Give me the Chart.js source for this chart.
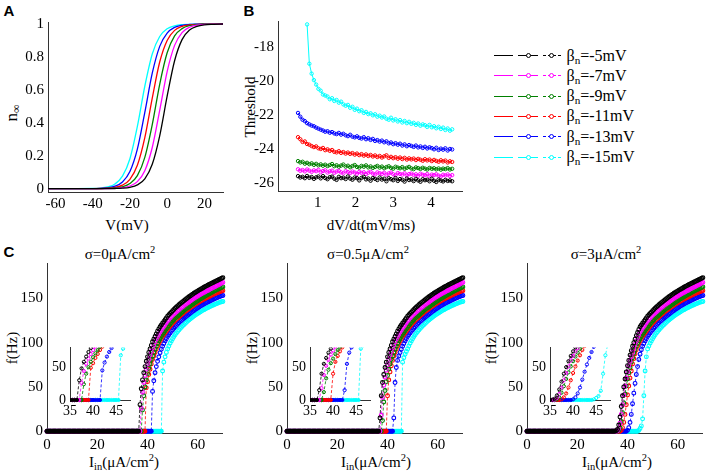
<!DOCTYPE html>
<html>
<head>
<meta charset="utf-8">
<script src="https://cdn.jsdelivr.net/npm/chart.js@4.4.0/dist/chart.umd.min.js"></script>
<style>
  body { margin: 0; width: 708px; height: 473px; background: #fff; position: relative; overflow: hidden;
         font-family: "Liberation Serif", "Times New Roman", serif; }
  canvas { position: absolute; }
  .t { position: absolute; font-size: 15px; line-height: 1; white-space: nowrap; color: #000; }
  .t sub { font-size: 70%; vertical-align: -0.3em; line-height: 0; }
  .t sup { font-size: 70%; vertical-align: 0.55em; line-height: 0; }
  .letter { font: bold 15px "Liberation Sans", Arial, sans-serif; }
  .big { font-size: 17px; }
  .lg { position: absolute; }
</style>
</head>
<body>
<script>
// series colours and legend labels (beta_n = -5 ... -15 mV)
const colors = ['#000000', '#ff00ff', '#008000', '#ff0000', '#0000ff', '#00ffff'];
const betaLabels = ['-5', '-7', '-9', '-11', '-13', '-15'];

// ---- panel A : n_inf(V)
const aV = [-65, -40, -36, -32, -28, -24, -20, -16, -12, -8, -4, 0, 4, 8, 12, 16, 20, 25, 30];
const nInf5  = [0, 0.0001, 0.0002, 0.0004, 0.0012, 0.0032, 0.0086, 0.023, 0.060, 0.148, 0.321, 0.562, 0.777, 0.905, 0.963, 0.986, 0.995, 0.998, 1.0];
const nInf7  = [0, 0.0001, 0.0003, 0.0008, 0.0022, 0.0061, 0.0163, 0.043, 0.109, 0.250, 0.475, 0.711, 0.870, 0.948, 0.980, 0.993, 0.997, 0.999, 1.0];
const nInf9  = [0, 0.0002, 0.0006, 0.0016, 0.0043, 0.0115, 0.031, 0.079, 0.190, 0.389, 0.634, 0.825, 0.928, 0.972, 0.990, 0.996, 0.999, 1.0, 1.0];
const nInf11 = [0, 0.0004, 0.0011, 0.003, 0.0082, 0.022, 0.057, 0.142, 0.310, 0.550, 0.769, 0.900, 0.961, 0.985, 0.994, 0.998, 0.999, 1.0, 1.0];
const nInf13 = [0, 0.0008, 0.0021, 0.0058, 0.0155, 0.041, 0.104, 0.240, 0.463, 0.701, 0.864, 0.945, 0.979, 0.992, 0.997, 0.999, 1.0, 1.0, 1.0];
const nInf15 = [0, 0.0015, 0.0041, 0.011, 0.029, 0.076, 0.182, 0.378, 0.622, 0.818, 0.924, 0.971, 0.989, 0.996, 0.998, 0.999, 1.0, 1.0, 1.0];
const aXTicks = [-60, -40, -20, 0, 20];
const aYTicks = [0, 0.2, 0.4, 0.6, 0.8, 1];

// ---- panel B : threshold vs dV/dt
const bX = [0.48, 0.54, 0.60, 0.66, 0.72, 0.78, 0.84, 0.90, 0.96, 1.02, 1.08, 1.14, 1.20, 1.26, 1.32, 1.38, 1.44, 1.50, 1.56, 1.62,
  1.68, 1.74, 1.80, 1.86, 1.92, 1.98, 2.04, 2.10, 2.16, 2.22, 2.28, 2.34, 2.40, 2.46, 2.52, 2.58, 2.64, 2.70, 2.76, 2.82,
  2.88, 2.94, 3.00, 3.06, 3.12, 3.18, 3.24, 3.30, 3.36, 3.42, 3.48, 3.54, 3.60, 3.66, 3.72, 3.78, 3.84, 3.90, 3.96, 4.02,
  4.08, 4.14, 4.20, 4.26, 4.32, 4.38, 4.44, 4.50, 4.56];
const thr5 = [-25.58, -25.66, -25.62, -25.70, -25.57, -25.68, -25.63, -25.74, -25.65, -25.60,
  -25.71, -25.58, -25.69, -25.76, -25.64, -25.61, -25.73, -25.80, -25.62, -25.70,
  -25.67, -25.75, -25.60, -25.72, -25.79, -25.66, -25.70, -25.83, -25.68, -25.62,
  -25.77, -25.72, -25.85, -25.69, -25.74, -25.81, -25.66, -25.78, -25.73, -25.88,
  -25.70, -25.76, -25.82, -25.69, -25.86, -25.75, -25.79, -25.90, -25.72, -25.81,
  -25.77, -25.87, -25.74, -25.83, -25.91, -25.76, -25.82, -25.79, -25.88, -25.73,
  -25.85, -25.92, -25.78, -25.84, -25.89, -25.80, -25.86, -25.83, -25.88];
const thr7 = [-25.18, -25.27, -25.22, -25.30, -25.19, -25.26, -25.33, -25.24, -25.29, -25.21,
  -25.35, -25.28, -25.24, -25.37, -25.30, -25.26, -25.39, -25.31, -25.27, -25.36,
  -25.42, -25.29, -25.34, -25.40, -25.31, -25.37, -25.44, -25.33, -25.39, -25.35,
  -25.46, -25.38, -25.33, -25.43, -25.48, -25.36, -25.41, -25.45, -25.38, -25.50,
  -25.42, -25.37, -25.47, -25.52, -25.40, -25.45, -25.49, -25.41, -25.54, -25.46,
  -25.43, -25.51, -25.47, -25.56, -25.44, -25.50, -25.53, -25.46, -25.58, -25.49,
  -25.52, -25.47, -25.55, -25.60, -25.50, -25.54, -25.48, -25.57, -25.52];
const thr9 = [-24.70, -24.78, -24.74, -24.85, -24.80, -24.88, -24.83, -24.92, -24.86, -24.95,
  -24.89, -24.97, -24.91, -24.99, -24.93, -24.87, -25.00, -24.94, -25.03, -24.96,
  -24.90, -25.02, -24.97, -25.06, -24.99, -24.93, -25.04, -25.08, -24.98, -25.03,
  -24.95, -25.07, -25.01, -25.10, -25.04, -24.98, -25.08, -25.02, -25.12, -25.05,
  -25.00, -25.09, -25.14, -25.03, -25.08, -25.12, -25.05, -25.15, -25.09, -25.04,
  -25.13, -25.17, -25.07, -25.11, -25.16, -25.09, -25.14, -25.19, -25.10, -25.15,
  -25.12, -25.18, -25.13, -25.20, -25.14, -25.17, -25.11, -25.19, -25.15];
const thr11 = [-23.30, -23.42, -23.58, -23.55, -23.70, -23.74, -23.82, -23.88, -23.84, -23.95,
  -23.99, -23.93, -24.06, -24.01, -24.10, -24.05, -24.16, -24.19, -24.12, -24.22,
  -24.17, -24.26, -24.20, -24.28, -24.23, -24.32, -24.26, -24.35, -24.29, -24.38,
  -24.31, -24.40, -24.34, -24.43, -24.37, -24.46, -24.40, -24.49, -24.42, -24.36,
  -24.51, -24.45, -24.53, -24.47, -24.56, -24.49, -24.58, -24.51, -24.61, -24.54,
  -24.60, -24.55, -24.64, -24.57, -24.62, -24.68, -24.59, -24.66, -24.61, -24.70,
  -24.63, -24.69, -24.74, -24.65, -24.72, -24.67, -24.78, -24.71, -24.75];
const thr13 = [-21.88, -22.10, -22.28, -22.36, -22.48, -22.55, -22.62, -22.66, -22.74, -22.80,
  -22.86, -22.91, -22.98, -22.95, -23.04, -23.00, -23.08, -23.12, -23.05, -23.15,
  -23.10, -23.19, -23.24, -23.16, -23.27, -23.31, -23.25, -23.34, -23.38, -23.30,
  -23.42, -23.36, -23.46, -23.40, -23.52, -23.47, -23.56, -23.50, -23.60, -23.54,
  -23.66, -23.61, -23.71, -23.65, -23.74, -23.68, -23.79, -23.72, -23.83, -23.76,
  -23.81, -23.87, -23.79, -23.90, -23.84, -23.93, -23.86, -23.96, -23.89, -23.94,
  -24.01, -23.92, -24.05, -23.97, -24.03, -23.95, -24.08, -23.99, -24.02];
const thr15 = [null, null, null, null, -16.70, -19.00, -19.58, -19.96, -20.22, -20.47,
  -20.58, -20.80, -20.86, -20.92, -21.08, -21.02, -21.18, -21.12, -21.28, -21.22,
  -21.38, -21.46, -21.41, -21.58, -21.52, -21.70, -21.63, -21.78, -21.72, -21.88,
  -21.82, -21.95, -21.90, -22.02, -21.96, -22.10, -22.04, -22.15, -22.09, -22.22,
  -22.28, -22.16, -22.32, -22.25, -22.38, -22.30, -22.44, -22.35, -22.48, -22.40,
  -22.52, -22.46, -22.58, -22.50, -22.63, -22.55, -22.60, -22.70, -22.58, -22.72,
  -22.66, -22.78, -22.69, -22.82, -22.74, -22.88, -22.79, -22.92, -22.84];
const bXTicks = [1, 2, 3, 4];
const bYTicks = [-26, -24, -22, -20, -18];

// ---- panel C : f-I curves
const zeroI = [0, 0.5, 1, 1.5, 2, 2.5, 3, 3.5, 4, 4.5, 5, 5.5, 6, 6.5, 7, 7.5, 8, 8.5, 9, 9.5,
  10, 10.5, 11, 11.5, 12, 12.5, 13, 13.5, 14, 14.5, 15, 15.5, 16, 16.5, 17, 17.5, 18, 18.5, 19, 19.5,
  20, 20.5, 21, 21.5, 22, 22.5, 23, 23.5, 24, 24.5, 25, 25.5, 26, 26.5, 27, 27.5, 28, 28.5, 29, 29.5,
  30, 30.5, 31, 31.5, 32, 32.5, 33, 33.5, 34, 34.5];
const zeroF = [0, 0, 0, 0, 0, 0, 0, 0, 0, 0, 0, 0, 0, 0, 0, 0, 0, 0, 0, 0,
  0, 0, 0, 0, 0, 0, 0, 0, 0, 0, 0, 0, 0, 0, 0, 0, 0, 0, 0, 0,
  0, 0, 0, 0, 0, 0, 0, 0, 0, 0, 0, 0, 0, 0, 0, 0, 0, 0, 0, 0,
  0, 0, 0, 0, 0, 0, 0, 0, 0, 0];
const lowI = [35, 35.5, 36, 36.5, 37, 37.5, 38, 38.5, 39, 39.5, 40, 40.5, 41, 41.5, 42, 42.5, 43, 43.5, 44, 44.5, 45, 45.5, 46, 46.5, 47, 47.5];
const hiI = [48, 48.5, 49, 49.5, 50, 50.5, 51, 51.5, 52, 52.5, 53, 53.5, 54, 54.5, 55, 55.5, 56, 56.5, 57, 57.5,
  58, 58.5, 59, 59.5, 60, 60.5, 61, 61.5, 62, 62.5, 63, 63.5, 64, 64.5, 65, 65.5, 66, 66.5, 67, 67.5,
  68, 68.5, 69, 69.5, 70];

const hiF5  = [130, 131.5, 133, 134.5, 136, 137.5, 139, 140.3, 141.5, 142.8, 144, 145.2, 146.3, 147.4, 148.5, 149.6, 150.7, 151.8, 152.8, 153.8,
  154.8, 155.8, 156.7, 157.6, 158.5, 159.4, 160.2, 161, 161.8, 162.6, 163.4, 164.2, 164.9, 165.7, 166.4, 167.1, 167.8, 168.5, 169.2, 169.9,
  170.6, 171.3, 172, 172.7, 173.3];
const hiF7  = [124.5, 126.3, 128, 129.5, 131, 132.3, 133.5, 134.8, 136, 137.3, 138.5, 139.6, 140.7, 141.9, 143, 144, 145, 146, 147, 148,
  149, 150, 151, 151.9, 152.8, 153.7, 154.5, 155.3, 156, 156.8, 157.5, 158.3, 159, 159.8, 160.5, 161.3, 162, 162.8, 163.5, 164.3,
  165, 165.8, 166.5, 167.3, 168];
const hiF9  = [117.5, 119.3, 121, 122.8, 124.5, 126, 127.5, 128.8, 130, 131.3, 132.5, 133.8, 135, 136.3, 137.5, 138.5, 139.5, 140.5, 141.5, 142.5,
  143.5, 144.5, 145.5, 146.5, 147.5, 148.4, 149.3, 150.2, 151, 151.9, 152.7, 153.5, 154.3, 155.1, 155.9, 156.7, 157.4, 158.2, 158.9, 159.7,
  160.4, 161.1, 161.8, 162.4, 163];
const hiF11 = [115, 116.8, 118.5, 120.3, 122, 123.5, 125, 126.4, 127.7, 129, 130.3, 131.6, 132.8, 134, 135.1, 136.2, 137.3, 138.4, 139.4, 140.4,
  141.4, 142.4, 143.3, 144.2, 145.1, 146, 146.8, 147.6, 148.4, 149.2, 149.9, 150.7, 151.4, 152.1, 152.8, 153.5, 154.2, 154.9, 155.5, 156.1,
  156.7, 157.3, 157.9, 158.4, 158.8];
const hiF13 = [107, 109, 111, 112.8, 114.5, 116.3, 118, 119.5, 121, 122.4, 123.8, 125.1, 126.4, 127.6, 128.8, 130, 131.1, 132.2, 133.3, 134.4,
  135.4, 136.4, 137.4, 138.4, 139.3, 140.2, 141.1, 142, 142.8, 143.6, 144.4, 145.2, 145.9, 146.6, 147.3, 148, 148.7, 149.4, 150, 150.6,
  151.2, 151.8, 152.4, 152.9, 153.3];
const hiF15 = [93, 96.3, 99.5, 102, 104.5, 106.8, 109, 110.9, 112.7, 114.4, 116, 117.5, 119, 120.4, 121.8, 123.1, 124.4, 125.6, 126.8, 127.9,
  129, 130.1, 131.1, 132.1, 133, 133.9, 134.8, 135.7, 136.5, 137.3, 138.1, 138.9, 139.6, 140.3, 141, 141.7, 142.3, 142.9, 143.5, 144.1,
  144.7, 145.3, 145.8, 146.2, 146.5];

// sigma = 0
const lo0F5  = [0, 0, 0, 0, 30, 48, 58, 66, 73, 79, 84, 89, 93, 97, 101, 104, 107, 110, 113, 115.5, 118, 120, 122, 124, 126, 128];
const lo0F7  = [0, 0, 0, 0, 0, 26, 44, 55, 63, 70, 76, 81, 86, 90, 94, 97.5, 101, 104, 107, 109.5, 112, 114, 116.5, 118.5, 120.5, 122.5];
const lo0F9  = [0, 0, 0, 0, 0, 0, 24, 40, 50, 58, 65, 71, 76, 81, 85, 89, 92.5, 96, 99, 102, 104.5, 107, 109.5, 111.5, 113.5, 115.5];
const lo0F11 = [0, 0, 0, 0, 0, 0, 0, 0, 0, 49, 56, 64, 70, 76, 81, 85, 89, 92.5, 96, 99, 102, 104.5, 107, 109, 111, 113];
const lo0F13 = [0, 0, 0, 0, 0, 0, 0, 0, 0, 0, 0, 0, 0, 0, 45, 57, 66, 73, 79, 84, 88.5, 92.5, 96, 99, 102, 104.5];
const lo0F15 = [0, 0, 0, 0, 0, 0, 0, 0, 0, 0, 0, 0, 0, 0, 0, 0, 0, 0, 0, 0, 0, 0, 68, 78, 84, 89];
// sigma = 0.5
const lo05F5  = [0, 0, 0, 0, 15, 40, 55, 64, 72, 78, 84, 89, 93, 97, 101, 104, 107, 110, 113, 115.5, 118, 120, 122, 124, 126, 128];
const lo05F7  = [0, 0, 0, 0, 0, 18, 38, 52, 61, 69, 75, 81, 86, 90, 94, 97.5, 101, 104, 107, 109.5, 112, 114, 116.5, 118.5, 120.5, 122.5];
const lo05F9  = [0, 0, 0, 0, 0, 0, 12, 33, 46, 56, 63, 70, 76, 81, 85, 89, 92.5, 96, 99, 102, 104.5, 107, 109.5, 111.5, 113.5, 115.5];
const lo05F11 = [0, 0, 0, 0, 0, 0, 0, 0, 0, 0, 40, 58, 67, 74, 80, 85, 89, 92.5, 96, 99, 102, 104.5, 107, 109, 111, 113];
const lo05F13 = [0, 0, 0, 0, 0, 0, 0, 0, 0, 0, 0, 0, 0, 0, 0, 15, 55, 72, 80, 85, 89, 92.5, 96, 99, 102, 104.5];
const lo05F15 = [0, 0, 0, 0, 0, 0, 0, 0, 0, 0, 0, 0, 0, 0, 0, 0, 0, 0, 0, 0, 0, 0, 78, 83, 87, 90];
// sigma = 3
const lo3F5  = [0, 0.5, 2, 7, 16, 28, 40, 50, 59, 67, 74, 80, 86, 91, 96, 100, 104, 108, 111.5, 115, 118, 120, 122, 124, 126, 128];
const lo3F7  = [0, 0, 0.5, 3, 9, 19, 30, 41, 51, 60, 67, 74, 79, 84, 89, 93.5, 98, 102, 105.5, 109, 112, 114, 116.5, 118.5, 120.5, 122.5];
const lo3F9  = [0, 0, 0, 1, 4, 11, 21, 32, 42, 51, 59, 66, 72, 78, 83, 88, 92, 96, 99, 102, 104.5, 107, 109.5, 111.5, 113.5, 115.5];
const lo3F11 = [0, 0, 0, 0, 0, 1, 4, 10, 19, 30, 41, 51, 60, 68, 76, 82, 87.5, 92, 96, 99, 102, 104.5, 107, 109, 111, 113];
const lo3F13 = [0, 0, 0, 0, 0, 0, 0, 0, 0, 0, 1, 4, 10, 19, 31, 43, 54, 64, 73, 81, 87, 92, 96, 99, 102, 104.5];
const lo3F15 = [0, 0, 0, 0, 0, 0, 0, 0, 0, 0, 0, 0, 0, 0, 0, 0, 0, 0, 0, 1, 3, 6, 14, 40, 68, 84];

const cXTicks = [0, 20, 40, 60];
const cYTicks = [0, 50, 100, 150];
const insetXTicks = [35, 40, 45];
const insetYTicks = [0, 50];

// ---------- helpers
function addText(html, cx, cy, cls, rot) {
  const d = document.createElement('div');
  d.className = 't' + (cls ? ' ' + cls : '');
  d.innerHTML = html;
  d.style.left = cx + 'px';
  d.style.top = cy + 'px';
  d.style.transform = 'translate(-50%,-50%)' + (rot ? ' rotate(-90deg)' : '');
  document.body.appendChild(d);
}

function xy(xs, ys) {
  return xs.map((x, i) => ({x: x, y: ys[i]}));
}

function plot(area, pad, xr, yr, xt, yt, datasets, fontSize, clip) {
  const c = document.createElement('canvas');
  c.width = area.w + pad.l + pad.r;
  c.height = area.h + pad.t + pad.b;
  c.style.left = (area.x - pad.l) + 'px';
  c.style.top = (area.y - pad.t) + 'px';
  document.body.appendChild(c);
  if (clip) datasets.forEach(d => { d.clip = clip; });
  const axis = (r, t, padding, fit) => ({
    type: 'linear', min: r[0], max: r[1],
    grid: {display: false, drawTicks: false},
    border: {display: true, color: '#333', width: 1},
    ticks: {font: {family: '"Liberation Serif", serif', size: fontSize}, color: '#000', padding: padding,
            maxRotation: 0, autoSkip: false, callback: v => String(v)},
    afterBuildTicks: s => { s.ticks = t.map(v => ({value: v})); },
    afterFit: fit
  });
  return new Chart(c, {
    type: 'line',
    data: {datasets: datasets},
    options: {
      responsive: false, animation: false, devicePixelRatio: 1,
      layout: {padding: {left: 0, top: pad.t, right: pad.r, bottom: 0}},
      plugins: {legend: {display: false}, tooltip: {enabled: false}},
      scales: {
        x: axis(xr, xt, 3, s => { s.height = pad.b; }),
        y: axis(yr, yt, 4, s => { s.width = pad.l; })
      }
    }
  });
}

// ---------- text (first, so the serif face is in use before the canvases draw)
addText('A', 9, 10, 'letter');
addText('B', 249, 10, 'letter');
addText('C', 9, 251, 'letter');
addText('n<sub>∞</sub>', 11, 113, 'big', true);
addText('V(mV)', 127, 225);
addText('Threshold', 250, 107, '', true);
addText('dV/dt(mV/ms)', 371, 225);
addText('σ=0μA/cm<sup>2</sup>', 120, 254);
addText('σ=0.5μA/cm<sup>2</sup>', 368, 254);
addText('σ=3μA/cm<sup>2</sup>', 606, 254);
[[12, 348], [252, 348], [491, 348]].forEach(p => addText('f(Hz)', p[0], p[1], '', true));
[124, 376, 617].forEach(x => addText('I<sub>in</sub>(μA/cm<sup>2</sup>)', x, 462));

// ---------- panel A
const nInfSeries = [nInf5, nInf7, nInf9, nInf11, nInf13, nInf15];
plot({x: 48, y: 19, w: 175, h: 173}, {l: 44, t: 10, r: 12, b: 24},
  [-64, 30], [-0.02, 1.012], aXTicks, aYTicks,
  nInfSeries.map((s, i) => ({
    data: xy(aV, s), borderColor: colors[i], borderWidth: 1.3, pointRadius: 0,
    cubicInterpolationMode: 'monotone', fill: false
  })), 15);

// ---------- panel B
const thrSeries = [thr5, thr7, thr9, thr11, thr13, thr15];
plot({x: 278, y: 18, w: 184, h: 173}, {l: 44, t: 10, r: 12, b: 24},
  [-0.05, 4.82], [-26.45, -16.5], bXTicks, bYTicks,
  thrSeries.map((s, i) => ({
    data: xy(bX, s), borderColor: colors[i], borderWidth: 1,
    pointRadius: 1.7, pointBorderWidth: 1, pointBorderColor: colors[i],
    pointBackgroundColor: 'rgba(255,255,255,0)', fill: false
  })), 15);

// ---------- panel C
const hiSeries = [hiF5, hiF7, hiF9, hiF11, hiF13, hiF15];
const cPanels = [
  {x: 47,  low: [lo0F5, lo0F7, lo0F9, lo0F11, lo0F13, lo0F15]},
  {x: 287, low: [lo05F5, lo05F7, lo05F9, lo05F11, lo05F13, lo05F15]},
  {x: 527, low: [lo3F5, lo3F7, lo3F9, lo3F11, lo3F13, lo3F15]}
];
function fiSets(panel, r, bw) {
  return panel.low.map((lo, i) => ({
    data: xy(zeroI, zeroF).concat(xy(lowI, lo), xy(hiI, hiSeries[i])),
    borderColor: colors[i], borderWidth: 0.8, borderDash: [3, 2],
    pointRadius: r, pointBorderWidth: bw, pointBorderColor: colors[i],
    // the dense run of markers at 0 Hz reads as a solid band
    pointBackgroundColor: ctx => (ctx.raw && ctx.raw.y === 0 ? colors[i] : 'rgba(255,255,255,0)'),
    fill: false
  }));
}
cPanels.forEach(p => {
  plot({x: p.x, y: 260, w: 176, h: 173.5}, {l: 44, t: 10, r: 5, b: 24},
    [0, 70], [-2, 190], cXTicks, cYTicks, fiSets(p, 1.9, 1.1), 15,
    {left: 3, top: 3, right: 4, bottom: 4});
  plot({x: p.x + 22.5, y: 342.5, w: 60.5, h: 57.5}, {l: 22, t: 8, r: 8, b: 20},
    [35, 48], [0, 80], insetXTicks, insetYTicks, fiSets(p, 1.6, 1), 14,
    {left: 0, top: 0, right: 0, bottom: 3});
});

// ---------- legend (three line styles per entry)
function lgEl(left, top, w, h, css) {
  const d = document.createElement('div');
  d.className = 'lg';
  d.style.cssText += 'left:' + left + 'px;top:' + top + 'px;width:' + w + 'px;height:' + h + 'px;' + css;
  document.body.appendChild(d);
}
colors.forEach((c, i) => {
  const y = 55.5 + 20.3 * i;
  lgEl(494, y - 0.5, 18.5, 0, 'border-top:1px solid ' + c + ';');
  lgEl(518.3, y - 0.5, 19.4, 0, 'border-top:1px solid ' + c + ';');
  lgEl(525.8, y - 2.5, 5, 5, 'box-sizing:border-box;border:1px solid ' + c + ';border-radius:50%;background:#fff;');
  lgEl(542.7, y - 0.5, 18.3, 0, 'border-top:1px dashed ' + c + ';');
  lgEl(549.2, y - 2.5, 5, 5, 'box-sizing:border-box;border:1px solid ' + c + ';border-radius:50%;background:#fff;');
  const d = document.createElement('div');
  d.className = 't';
  d.style.fontSize = '16px';
  d.innerHTML = 'β<sub>n</sub>=' + betaLabels[i] + 'mV';
  d.style.left = '566.5px';
  d.style.top = y + 'px';
  d.style.transform = 'translateY(-50%)';
  document.body.appendChild(d);
});
</script>
</body>
</html>
